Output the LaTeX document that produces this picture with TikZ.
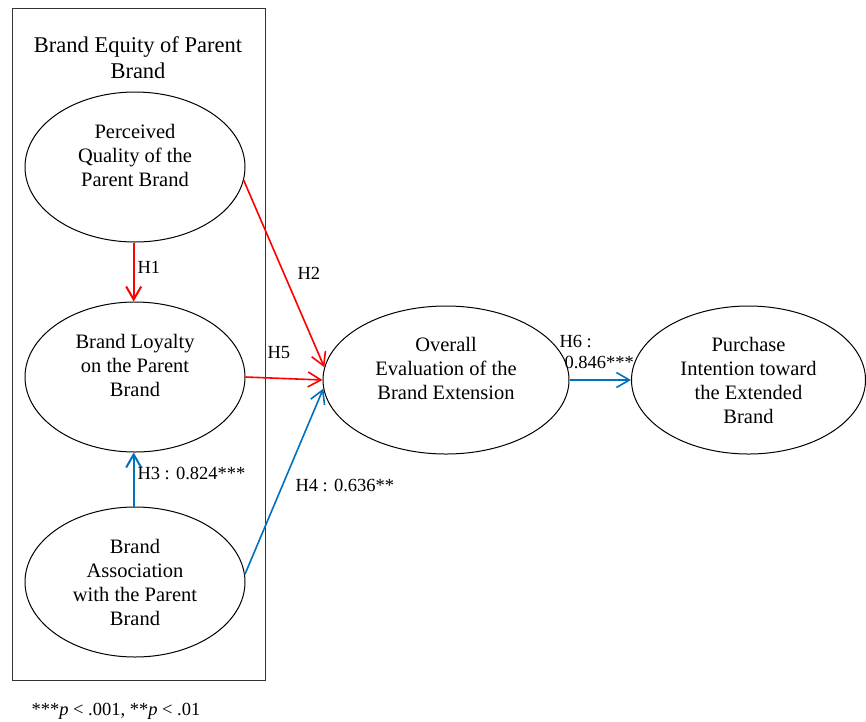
\documentclass[tikz,border=0pt]{standalone}
\usepackage{fontspec}
\setmainfont{Liberation Serif}
\usetikzlibrary{shapes.geometric,arrows.meta}
\definecolor{pathred}{RGB}{255,0,0}
\definecolor{pathblue}{RGB}{0,112,192}
\begin{document}
\begin{tikzpicture}[x=1pt,y=-1pt,line width=1pt,
	latent node/.style = {ellipse,draw,inner sep=0pt,minimum width=220pt,minimum height=150pt,
		align=center,font=\fontsize{20.5}{24}\selectfont},
	path label/.style = {anchor=west,inner sep=0pt,font=\fontsize{18.5}{21}\selectfont},
	red path/.style = {draw=pathred,line width=1.6pt,-{Straight Barb[length=13pt,width=15pt]}},
	blue path/.style = {draw=pathblue,line width=1.6pt,-{Straight Barb[length=13pt,width=15pt]}}]
	\useasboundingbox (0,0) rectangle (866,721);
	\draw[draw=black!80] (12,8) rectangle (265,680);
	\node[align=center,font=\fontsize{22.5}{26}\selectfont] (title) at (138,58) {Brand Equity of Parent\\Brand};
	\node[latent node] (PQ) at (135,167) {Perceived\\Quality of the\\Parent Brand\\\mbox{}};
	\node[latent node] (BL) at (135,377) {Brand Loyalty\\on the Parent\\Brand\\\mbox{}};
	\node[latent node] (BA) at (135,582) {Brand\\Association\\with the Parent\\Brand};
	\node[latent node,minimum width=246pt,minimum height=148pt] (OE) at (446,380) {Overall\\Evaluation of the\\Brand Extension\\\mbox{}};
	\node[latent node,minimum width=234pt,minimum height=148pt] (PI) at (748.5,380) {Purchase\\Intention toward\\the Extended\\Brand};
	
	\draw[red path,line width=2pt] (PQ.-91.7)--(BL.91.7);
	\draw[red path] (PQ.-7)--(OE.174);
	\draw[red path] (BL.east)--(OE.west);
	\draw[blue path,line width=2pt] (BA.91.7)--(BL.-91.7);
	\draw[blue path] (BA.4)--(OE.184);
	\draw[blue path] (OE.east)--(PI.west);
	
	\node[path label] (h1) at (137,267) {H1};
	\node[path label] (h2) at (297,273) {H2};
	\node[path label] (h5) at (267,353) {H5};
	\node[path label] (h3) at (137,473) {H3 : 0.824***};
	\node[path label] (h4) at (295,485) {H4 : 0.636**};
	\node[path label,anchor=north west,align=left] (h6) at (559,335) {H6 :\\\hspace{5pt}0.846***};
	\node[path label] (note) at (31,711) {***\textit{p} < .001, **\textit{p} < .01};
\end{tikzpicture}
\end{document}
